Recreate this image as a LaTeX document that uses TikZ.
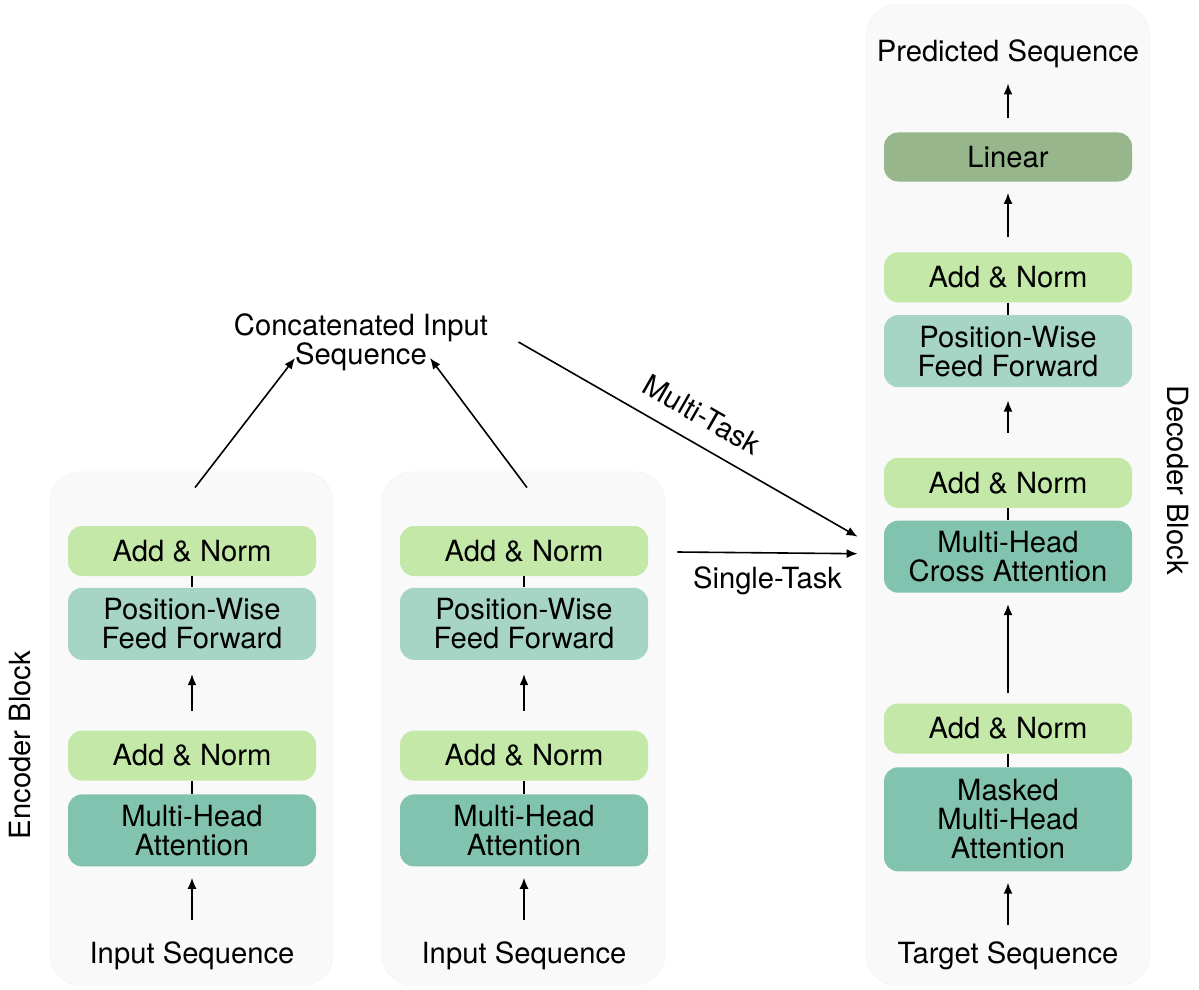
\documentclass[tikz,border=0pt]{standalone}
\usepackage{fontspec}
\setmainfont{TeX Gyre Heros}
\usepackage{tikz}
\usetikzlibrary{positioning, arrows.meta}
\usepackage{xcolor}
\definecolor{normgreen}{HTML}{C4E8A8}
\definecolor{ffteal}{HTML}{A6D5C6}
\definecolor{attnteal}{HTML}{82C3AF}
\definecolor{lingreen}{HTML}{97B68C}
\definecolor{blockgray}{HTML}{F9F9F9}
\tikzstyle{addnorm}  = [rectangle, rounded corners=7pt, minimum width=124pt, minimum height=25pt, text centered, fill=normgreen]
\tikzstyle{feedfwd}  = [rectangle, rounded corners=7pt, minimum width=124pt, minimum height=36pt, align=center, fill=ffteal]
\tikzstyle{attn}     = [rectangle, rounded corners=7pt, minimum width=124pt, minimum height=36pt, align=center, fill=attnteal]
\tikzstyle{linear}   = [rectangle, rounded corners=7pt, minimum width=124pt, minimum height=24.5pt, text centered, fill=lingreen]
\tikzstyle{seqtext}  = [inner sep=0pt, align=center]
\tikzstyle{block}    = [rounded corners=15pt, fill=blockgray, draw=black!4]

\begin{document}
\begin{tikzpicture}[x=0.5pt, y=-0.5pt, font=\fontsize{14.6}{14.5}\selectfont, >={Latex[length=5.5pt, width=4.5pt]}]
            \useasboundingbox (0,0) rectangle (1199,990);
            \draw[block] (50,472) rectangle (333,985);
            \draw[block] (382,472) rectangle (665,985);
            \draw[block] (866,5) rectangle (1150,985);

            % encoder (left)
            \node[addnorm] (an1a) at (192,551) {Add \& Norm};
            \node[feedfwd] (ff1)  [below=5.5pt of an1a] {Position-Wise\\Feed Forward};
            \node[addnorm] (an1b) [below=35pt of ff1 ] {Add \& Norm};
            \node[attn]    (mha1) [below=6.5pt of an1b] {Multi-Head\\Attention};
            \node[seqtext] (in1)  at (192,956) {Input Sequence};

            % encoder (right)
            \node[addnorm] (an2a) at (524,551) {Add \& Norm};
            \node[feedfwd] (ff2)  [below=5.5pt of an2a] {Position-Wise\\Feed Forward};
            \node[addnorm] (an2b) [below=35pt of ff2 ] {Add \& Norm};
            \node[attn]    (mha2) [below=6.5pt of an2b] {Multi-Head\\Attention};
            \node[seqtext] (in2)  at (524,956) {Input Sequence};

            % decoder
            \node[seqtext] (pred) at (1008,54) {Predicted Sequence};
            \node[linear]  (lin)  at (1008,157) {Linear};
            \node[addnorm] (and3) [below=35pt of lin ] {Add \& Norm};
            \node[feedfwd] (ffd)  [below=6pt of and3 ] {Position-Wise\\Feed Forward};
            \node[addnorm] (and2) [below=35pt of ffd ] {Add \& Norm};
            \node[attn]    (mhca) [below=6pt of and2 ] {Multi-Head\\Cross Attention};
            \node[addnorm] (and1) [below=55pt of mhca] {Add \& Norm};
            \node[attn, minimum height=52pt] (mmha) [below=6.5pt of and1] {Masked\\Multi-Head\\Attention};
            \node[seqtext] (tgt)  at (1008,956) {Target Sequence};

            \node[seqtext] (concat) at (361,342) {Concatenated Input\\Sequence};
            \coordinate (c1) at (295,358);
            \coordinate (c2) at (430,358);

            \node[rotate=90]  (enclbl) at (20,745)   {Encoder Block};
            \node[rotate=-90] (declbl) at (1178,480) {Decoder Block};

            \draw[thick] (an1a.south) -- (ff1.north);
            \draw[thick] (an1b.south) -- (mha1.north);
            \draw[thick] (an2a.south) -- (ff2.north);
            \draw[thick] (an2b.south) -- (mha2.north);
            \draw[thick] (and3.south) -- (ffd.north);
            \draw[thick] (and2.south) -- (mhca.north);
            \draw[thick] (and1.south) -- (mmha.north);

            \draw[->, thick, shorten <=11pt, shorten >=5.5pt] (in1.north) -- (mha1.south);
            \draw[->, thick, shorten <=9.5pt, shorten >=7pt] (an1b.north) -- (ff1.south);
            \draw[->, thick, shorten <=11pt, shorten >=5.5pt] (in2.north) -- (mha2.south);
            \draw[->, thick, shorten <=9.5pt, shorten >=7pt] (an2b.north) -- (ff2.south);
            \draw[->, thick] ([xshift=1.5pt, yshift=19pt]an1a.north) -- (c1);
            \draw[->, thick] ([xshift=1.5pt, yshift=19pt]an2a.north) -- (c2);

            \draw[->, thick, shorten <=8.5pt, shorten >=5.5pt] (tgt.north) -- (mmha.south);
            \draw[->, thick, shorten <=5pt, shorten >=5.5pt] (and1.north) -- (mhca.south);
            \draw[->, thick, shorten <=12.5pt, shorten >=6.5pt] (and2.north) -- (ffd.south);
            \draw[->, thick, shorten <=7.5pt, shorten >=5.5pt] (and3.north) -- (lin.south);
            \draw[->, thick, shorten <=7pt, shorten >=7.5pt] (lin.north) -- (pred.south);

            \draw[->, thick] ([xshift=15pt]concat.east) -- ([xshift=-13pt, yshift=10pt]mhca.west) node [pos=0.5, sloped, above=5pt] {Multi-Task};
            \draw[->, thick] ([xshift=14.5pt, yshift=-0.5pt]an2a.east) -- ([xshift=-13pt, yshift=1.5pt]mhca.west) node [midway, below=3pt] {Single-Task};
        \end{tikzpicture}
\end{document}
